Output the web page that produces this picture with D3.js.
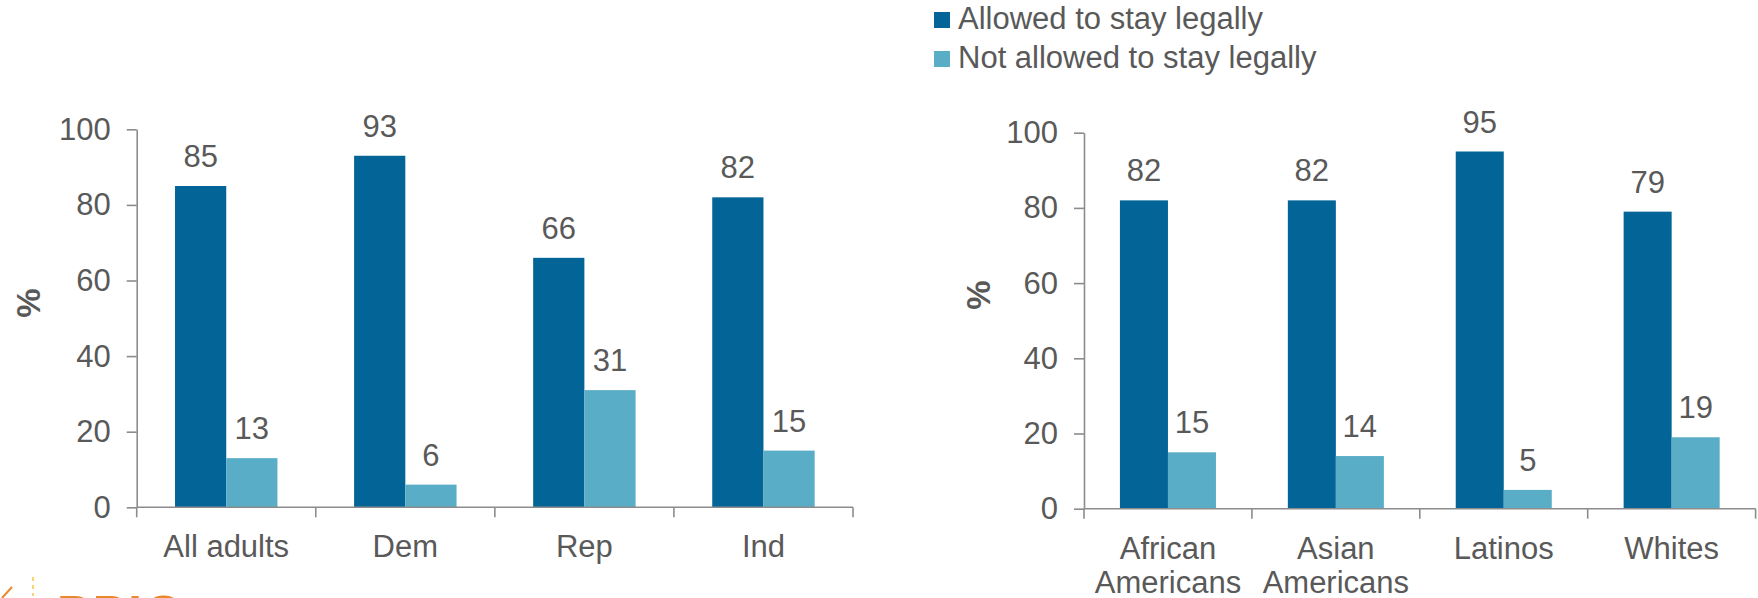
<!DOCTYPE html>
<html>
<head>
<meta charset="utf-8">
<script src="https://cdn.jsdelivr.net/npm/d3@7"></script>
<style>
  html, body { margin: 0; padding: 0; background: #ffffff; }
  svg { display: block; }
  text { font-family: "Liberation Sans", Arial, sans-serif; fill: #595959; }
</style>
</head>
<body>
<svg id="chart" width="1758" height="598"></svg>
<script>
// ---------- data ----------
const seriesNames = ["Allowed to stay legally", "Not allowed to stay legally"];
const seriesColors = ["#026497", "#5aadc6"];

const partyCategories = ["All adults", "Dem", "Rep", "Ind"];
const partyAllowed    = [85, 93, 66, 82];
const partyNotAllowed = [13, 6, 31, 15];

const raceCategories   = ["African Americans", "Asian Americans", "Latinos", "Whites"];
const raceAllowed      = [82, 82, 95, 79];
const raceNotAllowed   = [15, 14, 5, 19];

const yTicks = [0, 20, 40, 60, 80, 100];
const yAxisTitle = "%";

// ---------- drawing ----------
const svg = d3.select("#chart");
const FONT = 31;
const AXIS_COLOR = "#8c8c8c";

function drawPanel(cfg) {
  const { cats, vals1, vals2, x0, x1, yBottom, yTop, titleX, titleY, wrap } = cfg;
  const g = svg.append("g");

  const x = d3.scaleBand().domain(cats).range([x0, x1]).paddingInner(0).paddingOuter(0);
  const bw = x.bandwidth();
  const pad = bw * 0.214;
  const xs = d3.scaleBand().domain(seriesNames).range([pad, bw - pad]).padding(0);
  const y = d3.scaleLinear().domain([0, 100]).range([yBottom, yTop]);

  // y axis
  const yAxis = d3.axisLeft(y).tickValues(yTicks).tickSize(10).tickSizeOuter(0).tickPadding(16);
  const ya = g.append("g").attr("transform", `translate(${x0},0)`).call(yAxis);
  ya.selectAll("path, line").attr("stroke", AXIS_COLOR).attr("stroke-width", 1.6);
  ya.selectAll("text").attr("font-size", FONT).attr("fill", "#595959")
    .style("font-family", "'Liberation Sans', Arial, sans-serif");

  // y title
  g.append("text")
    .attr("transform", `translate(${titleX},${titleY}) rotate(-90)`)
    .attr("text-anchor", "middle")
    .attr("dominant-baseline", "central")
    .attr("font-size", 33)
    .attr("font-weight", "bold")
    .text(yAxisTitle);

  // bars
  const rows = cats.map((c, i) => ({ cat: c, values: [vals1[i], vals2[i]] }));
  const grp = g.selectAll("g.cat").data(rows).join("g")
    .attr("class", "cat")
    .attr("transform", d => `translate(${x(d.cat)},0)`);

  grp.selectAll("rect").data(d => d.values.map((v, j) => ({ key: seriesNames[j], v, j })))
    .join("rect")
    .attr("x", d => xs(d.key))
    .attr("width", xs.bandwidth())
    .attr("y", d => y(d.v))
    .attr("height", d => y(0) - y(d.v))
    .attr("fill", d => seriesColors[d.j]);

  grp.selectAll("text.val").data(d => d.values.map((v, j) => ({ key: seriesNames[j], v, j })))
    .join("text")
    .attr("class", "val")
    .attr("x", d => xs(d.key) + xs.bandwidth() / 2)
    .attr("y", d => y(d.v) - 19)
    .attr("text-anchor", "middle")
    .attr("font-size", FONT)
    .text(d => d.v);

  // x axis line
  g.append("line")
    .attr("x1", x0).attr("x2", x1)
    .attr("y1", y(0)).attr("y2", y(0))
    .attr("stroke", AXIS_COLOR).attr("stroke-width", 1.6);

  // boundary ticks
  const bounds = [x(cats[0])].concat(cats.map(c => x(c) + bw));
  g.selectAll("line.btick").data(bounds).join("line")
    .attr("class", "btick")
    .attr("x1", d => d).attr("x2", d => d)
    .attr("y1", y(0)).attr("y2", y(0) + 10)
    .attr("stroke", AXIS_COLOR).attr("stroke-width", 1.6);

  // category labels
  const lbl = g.selectAll("text.cat").data(cats).join("text")
    .attr("class", "cat")
    .attr("text-anchor", "middle")
    .attr("font-size", FONT)
    .attr("y", y(0) + 50);
  lbl.each(function (c) {
    const lines = wrap ? c.split(" ") : [c];
    const t = d3.select(this);
    lines.forEach((ln, k) => {
      t.append("tspan")
        .attr("x", x(c) + bw / 2)
        .attr("dy", k === 0 ? 0 : 34)
        .text(ln);
    });
  });
}

drawPanel({
  cats: partyCategories, vals1: partyAllowed, vals2: partyNotAllowed,
  x0: 136.7, x1: 853, yBottom: 507.3, yTop: 129.3,
  titleX: 28, titleY: 303, wrap: false
});

drawPanel({
  cats: raceCategories, vals1: raceAllowed, vals2: raceNotAllowed,
  x0: 1084, x1: 1755.6, yBottom: 508.7, yTop: 132.7,
  titleX: 978, titleY: 295, wrap: true
});

// legend
const legend = svg.append("g").attr("transform", "translate(934,12)");
const li = legend.selectAll("g").data(seriesNames).join("g")
  .attr("transform", (d, i) => `translate(0,${i * 39})`);
li.append("rect").attr("width", 16).attr("height", 16)
  .attr("fill", (d, i) => seriesColors[i]);
li.append("text").attr("x", 24).attr("y", 16.5)
  .attr("font-size", FONT).text(d => d);

// partial logo at bottom-left
svg.append("text")
  .attr("x", 57).attr("y", 629)
  .attr("font-size", 49)
  .attr("font-weight", "bold")
  .attr("letter-spacing", 3)
  .style("fill", "#e8892b")
  .text("PPIC");
svg.append("line")
  .attr("x1", 33).attr("x2", 33).attr("y1", 577).attr("y2", 596)
  .attr("stroke", "#f2c94c").attr("stroke-width", 1.5).attr("stroke-dasharray", "4,4");
svg.append("line")
  .attr("x1", 2).attr("x2", 12).attr("y1", 598).attr("y2", 587)
  .attr("stroke", "#e8892b").attr("stroke-width", 2);
</script>
</body>
</html>
